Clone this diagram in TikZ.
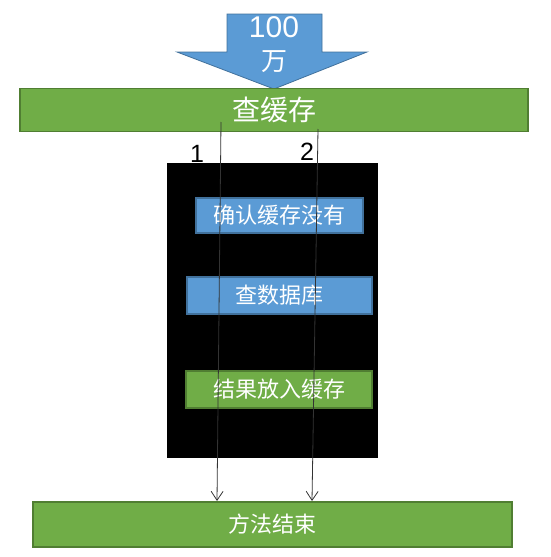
\documentclass[tikz,border=0pt]{standalone}
\usepackage{fontspec}
\setmainfont{Liberation Sans}
\newfontfamily\cjk{Noto Sans CJK SC}
\usetikzlibrary{arrows.meta}
\definecolor{boxgreen}{HTML}{70AD47}
\definecolor{greenedge}{HTML}{507E32}
\definecolor{boxblue}{HTML}{5B9BD5}
\definecolor{blueedge}{HTML}{41719C}

\begin{document}
\begin{tikzpicture}[x=1pt, y=-1pt,
    greenbar/.style={draw=greenedge, fill=boxgreen, line width=1.5pt, text=white, inner sep=0pt, font=\cjk\fontsize{22}{22}\selectfont},
    bluebar/.style={draw=blueedge, fill=boxblue, line width=1.2pt, text=white, inner sep=0pt, font=\cjk\fontsize{22}{22}\selectfont},
    flow/.style={draw=black!80, line width=0.8pt, -{Straight Barb[length=9pt, width=12pt]}}]
  \useasboundingbox (0,0) rectangle (550,557);
  % incoming requests
  \path[fill=boxblue, draw=blueedge, line width=0.8pt] (227,14) -- (322,14) -- (322,52) -- (367,52) -- (274,89) -- (177,52) -- (227,52) -- cycle;
  \node[text=white, font=\fontsize{30}{30}\selectfont] (num) at (274,27) {100};
  \node[text=white, font=\cjk\fontsize{26}{26}\selectfont] (unit) at (274,62) {万};
  % steps
  \node[greenbar, minimum width=508pt, minimum height=43pt, font=\cjk\fontsize{28}{28}\selectfont] (cache) at (274,110) {查缓存};
  \node[fill=black, minimum width=211pt, minimum height=295pt, inner sep=0pt] (block) at (272.5,310.5) {};
  \node[bluebar, minimum width=167pt, minimum height=35pt] (check) at (279.5,215.5) {确认缓存没有};
  \node[bluebar, minimum width=185pt, minimum height=37pt] (db) at (279.5,295.5) {查数据库};
  \node[greenbar, minimum width=186pt, minimum height=37pt] (store) at (279,389.5) {结果放入缓存};
  \node[greenbar, minimum width=479pt, minimum height=45pt] (done) at (272.5,524.5) {方法结束};
  % two threads
  \coordinate (t1) at (221,122);
  \coordinate (t2) at (318,129);
  \coordinate (e1) at (217,501);
  \coordinate (e2) at (312,501);
  \node[font=\fontsize{25}{25}\selectfont] (lab1) at (197,154) {1};
  \node[font=\fontsize{25}{25}\selectfont] (lab2) at (307,152) {2};
  \draw[flow] (t1) -- (e1);
  \draw[flow] (t2) -- (e2);
\end{tikzpicture}
\end{document}
